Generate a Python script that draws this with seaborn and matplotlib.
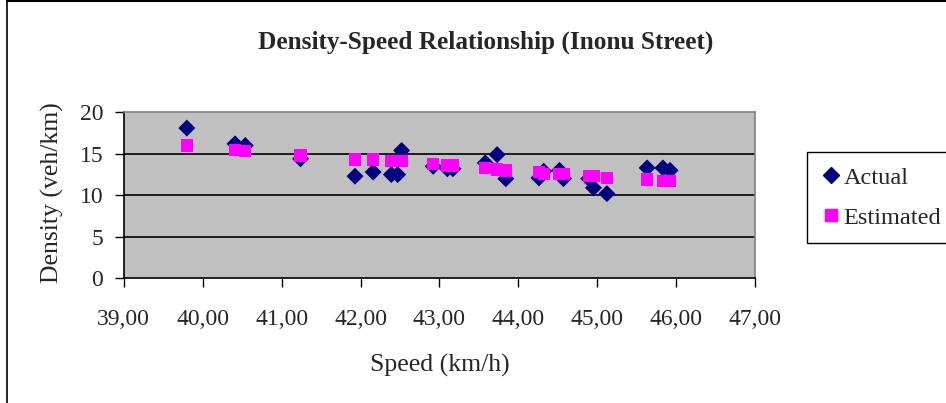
import matplotlib
matplotlib.use("Agg")
import matplotlib.pyplot as plt
import matplotlib.lines as mlines
import seaborn as sns
import pandas as pd
from matplotlib.ticker import FuncFormatter, MultipleLocator

speed = [39.80, 40.41, 40.54, 41.24, 41.93, 42.16, 42.39, 42.47, 42.52, 42.92,
         43.10, 43.17, 43.58, 43.73, 43.84, 44.26, 44.32, 44.52, 44.57, 44.89,
         44.95, 45.12, 45.63, 45.83, 45.92]
actual = [18.1, 16.2, 16.0, 14.4, 12.3, 12.8, 12.5, 12.5, 15.4, 13.5,
          13.2, 13.2, 13.9, 14.9, 12.0, 12.1, 12.9, 13.0, 12.0, 12.0,
          10.9, 10.2, 13.3, 13.3, 13.0]
estimated = [16.0, 15.5, 15.3, 14.8, 14.3, 14.3, 14.1, 14.1, 14.1, 13.8,
             13.6, 13.6, 13.3, 13.1, 13.0, 12.8, 12.6, 12.6, 12.6, 12.3,
             12.3, 12.1, 11.9, 11.7, 11.7]
series_names = ["Actual", "Estimated"]

sns.set_theme(style="white")
plt.rcParams["font.family"] = ["Liberation Serif", "DejaVu Serif"]

W, H = 946, 403
fig = plt.figure(figsize=(W / 100, H / 100), dpi=100)
fig.patch.set_facecolor("white")

L, R, T, B = 123.7, 755.3, 112.3, 278.3
ax = fig.add_axes([L / W, 1 - B / H, (R - L) / W, (B - T) / H])
ax.set_facecolor("#C0C0C0")

df_a = pd.DataFrame({"Speed": speed, "Density": actual})
df_e = pd.DataFrame({"Speed": speed, "Density": estimated})

sns.scatterplot(data=df_a, x="Speed", y="Density", marker="D", s=75,
                color="#000080", edgecolor="none", ax=ax, zorder=3)
sns.scatterplot(data=df_e, x="Speed", y="Density", marker="s", s=78,
                color="#FF00FF", edgecolor="none", ax=ax, zorder=4)

ax.set_xlim(39, 47)
ax.set_ylim(0, 20)
ax.xaxis.set_major_locator(MultipleLocator(1))
ax.yaxis.set_major_locator(MultipleLocator(5))
ax.xaxis.set_major_formatter(FuncFormatter(lambda v, p: f"{v:.2f}".replace(".", ",")))
ax.yaxis.set_major_formatter(FuncFormatter(lambda v, p: f"{v:.0f}"))

for yv in [5, 10, 15]:
    ax.axhline(yv, color="black", lw=1.2, zorder=1)

for side in ["top", "right"]:
    ax.spines[side].set_visible(True)
    ax.spines[side].set_color("#808080")
    ax.spines[side].set_linewidth(1.2)
for side in ["left", "bottom"]:
    ax.spines[side].set_color("black")
    ax.spines[side].set_linewidth(1.2)

ax.tick_params(axis="both", direction="out", length=6.3, width=1, color="black",
               labelsize=17, bottom=True, left=True)
ax.tick_params(axis="x", pad=15.5)
ax.tick_params(axis="y", pad=8.4)

ax.set_xlabel("Speed (km/h)", fontsize=18.5)
ax.set_ylabel("Density (veh/km)", fontsize=18.5)
ax.xaxis.set_label_coords((440 - L) / (R - L), (B - 365) / (B - T))
ax.xaxis.label.set_va("center")
ax.yaxis.set_label_coords((52 - L) / (R - L), (B - 193) / (B - T))
ax.yaxis.label.set_va("center")

fig.text(486 / W, 1 - 42 / H, "Density-Speed Relationship (Inonu Street)",
         fontsize=18.2, fontweight="bold", ha="center", va="center")

h_a = mlines.Line2D([], [], color="#000080", marker="D", ls="none", markersize=8)
h_e = mlines.Line2D([], [], color="#FF00FF", marker="s", ls="none", markersize=9)
leg = ax.legend([h_a, h_e], series_names, loc="upper left",
                bbox_to_anchor=(807 / W, 1 - 152 / H), bbox_transform=fig.transFigure,
                frameon=True, fancybox=False, framealpha=1, edgecolor="black",
                fontsize=17.5, handlelength=0.8, handletextpad=0.1,
                borderpad=0.6, labelspacing=0.75, borderaxespad=0)
leg.get_frame().set_linewidth(1)

fig.add_artist(mlines.Line2D([7 / W, 7 / W], [0, 1], color="black", lw=1.2))
fig.add_artist(mlines.Line2D([7 / W, 1], [1 - 0.8 / H, 1 - 0.8 / H], color="black", lw=1.5))

fig.savefig("out.png", dpi=100)
